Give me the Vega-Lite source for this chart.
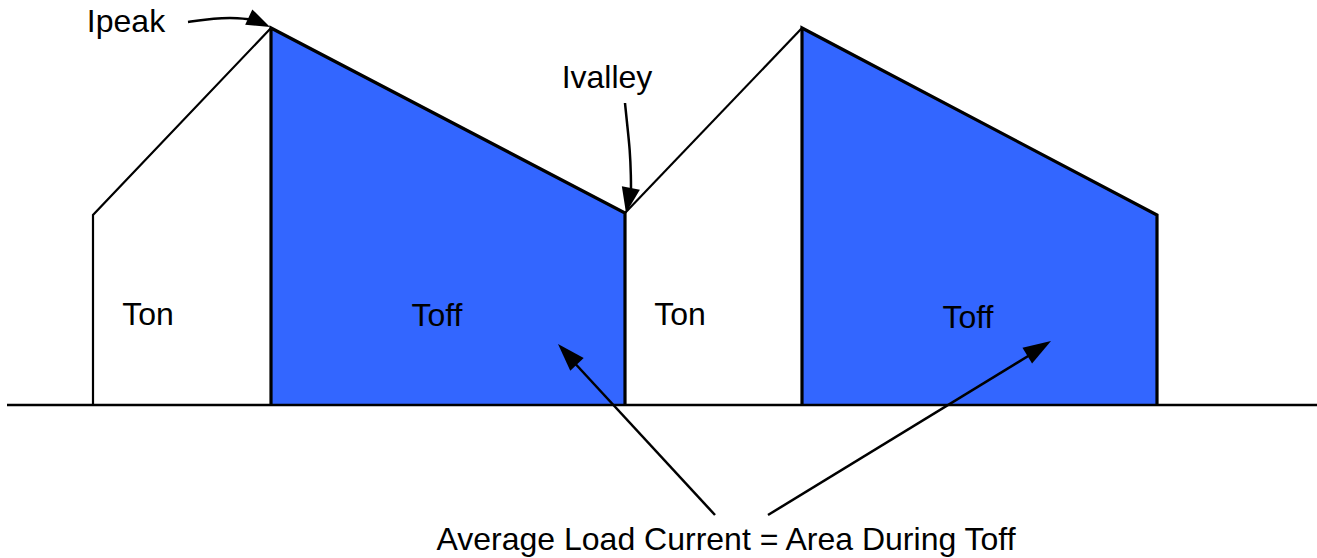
{
  "$schema": "https://vega.github.io/schema/vega-lite/v6.json",
  "width": 1317,
  "height": 558,
  "autosize": {"type": "none"},
  "padding": 0,
  "background": "white",
  "config": {"view": {"stroke": null}},
  "datasets": {
    "areas": [
      {"seg": "toff1", "x": 271, "y": 28},
      {"seg": "toff1", "x": 625, "y": 213},
      {"seg": "toff2", "x": 802, "y": 28},
      {"seg": "toff2", "x": 1157, "y": 215}
    ],
    "outline": [
      {"seg": "base", "kind": "base", "i": 0, "x": 7, "y": 405},
      {"seg": "base", "kind": "base", "i": 1, "x": 1317, "y": 405},
      {"seg": "ton1", "kind": "thin", "i": 0, "x": 93, "y": 405},
      {"seg": "ton1", "kind": "thin", "i": 1, "x": 93, "y": 215},
      {"seg": "ton1", "kind": "thin", "i": 2, "x": 271, "y": 28},
      {"seg": "ton2", "kind": "thin", "i": 0, "x": 625, "y": 213},
      {"seg": "ton2", "kind": "thin", "i": 1, "x": 802, "y": 28},
      {"seg": "toff1", "kind": "thick", "i": 0, "x": 271, "y": 405},
      {"seg": "toff1", "kind": "thick", "i": 1, "x": 271, "y": 28},
      {"seg": "toff1", "kind": "thick", "i": 2, "x": 625, "y": 213},
      {"seg": "toff1", "kind": "thick", "i": 3, "x": 625, "y": 405},
      {"seg": "toff2", "kind": "thick", "i": 0, "x": 802, "y": 405},
      {"seg": "toff2", "kind": "thick", "i": 1, "x": 802, "y": 28},
      {"seg": "toff2", "kind": "thick", "i": 2, "x": 1157, "y": 215},
      {"seg": "toff2", "kind": "thick", "i": 3, "x": 1157, "y": 405}
    ],
    "shafts": [
      {"arrow": "ipeak", "i": 0, "x": 188, "y": 22},
      {"arrow": "ipeak", "i": 1, "x": 205, "y": 19.5},
      {"arrow": "ipeak", "i": 2, "x": 222, "y": 18},
      {"arrow": "ipeak", "i": 3, "x": 238, "y": 18},
      {"arrow": "ipeak", "i": 4, "x": 251, "y": 19.5},
      {"arrow": "ivalley", "i": 0, "x": 625, "y": 103},
      {"arrow": "ivalley", "i": 1, "x": 627, "y": 123},
      {"arrow": "ivalley", "i": 2, "x": 630, "y": 150},
      {"arrow": "ivalley", "i": 3, "x": 631, "y": 177},
      {"arrow": "ivalley", "i": 4, "x": 631, "y": 192},
      {"arrow": "left", "i": 0, "x": 715, "y": 515},
      {"arrow": "left", "i": 1, "x": 570, "y": 358},
      {"arrow": "right", "i": 0, "x": 768, "y": 515},
      {"arrow": "right", "i": 1, "x": 1038, "y": 350}
    ],
    "heads": [
      {"arrow": "ipeak", "x": 270, "y": 27},
      {"arrow": "ivalley", "x": 626, "y": 213},
      {"arrow": "left", "x": 558, "y": 344},
      {"arrow": "right", "x": 1051, "y": 341}
    ],
    "labels": [
      {"label": "Ton", "x": 148, "y": 325},
      {"label": "Toff", "x": 437, "y": 326},
      {"label": "Ton", "x": 680, "y": 325},
      {"label": "Toff", "x": 968, "y": 328},
      {"label": "Ipeak", "x": 126, "y": 32},
      {"label": "Ivalley", "x": 607, "y": 88},
      {"label": "Average Load Current = Area During Toff", "x": 726, "y": 550}
    ]
  },
  "layer": [
    {
      "data": {"name": "areas"},
      "mark": {"type": "area", "color": "#3366FF", "opacity": 1, "interpolate": "linear"},
      "encoding": {
        "x": {"field": "x", "type": "quantitative", "scale": {"domain": [0, 1317], "nice": false, "zero": false}, "axis": null},
        "y": {"field": "y", "type": "quantitative", "scale": {"domain": [0, 558], "nice": false, "zero": false, "reverse": true}, "axis": null},
        "y2": {"datum": 405},
        "detail": {"field": "seg"}
      }
    },
    {
      "data": {"name": "outline"},
      "transform": [{"filter": "datum.kind === 'base'"}],
      "mark": {"type": "line", "color": "black", "strokeWidth": 2.5},
      "encoding": {
        "x": {"field": "x", "type": "quantitative", "axis": null},
        "y": {"field": "y", "type": "quantitative", "axis": null},
        "detail": {"field": "seg"},
        "order": {"field": "i"}
      }
    },
    {
      "data": {"name": "outline"},
      "transform": [{"filter": "datum.kind === 'thin'"}],
      "mark": {"type": "line", "color": "black", "strokeWidth": 2.2},
      "encoding": {
        "x": {"field": "x", "type": "quantitative", "axis": null},
        "y": {"field": "y", "type": "quantitative", "axis": null},
        "detail": {"field": "seg"},
        "order": {"field": "i"}
      }
    },
    {
      "data": {"name": "outline"},
      "transform": [{"filter": "datum.kind === 'thick'"}],
      "mark": {"type": "line", "color": "black", "strokeWidth": 3.2, "strokeJoin": "miter"},
      "encoding": {
        "x": {"field": "x", "type": "quantitative", "axis": null},
        "y": {"field": "y", "type": "quantitative", "axis": null},
        "detail": {"field": "seg"},
        "order": {"field": "i"}
      }
    },
    {
      "data": {"name": "shafts"},
      "mark": {"type": "line", "color": "black", "strokeWidth": 2.5, "interpolate": "basis"},
      "encoding": {
        "x": {"field": "x", "type": "quantitative", "axis": null},
        "y": {"field": "y", "type": "quantitative", "axis": null},
        "detail": {"field": "arrow"},
        "order": {"field": "i"}
      }
    },
    {
      "data": {"name": "heads"},
      "transform": [{"filter": "datum.arrow === 'ipeak'"}],
      "mark": {"type": "point", "shape": "M0,0L0.36,1L-0.36,1Z", "filled": true, "color": "black", "opacity": 1, "size": 2200, "angle": 115},
      "encoding": {
        "x": {"field": "x", "type": "quantitative", "axis": null},
        "y": {"field": "y", "type": "quantitative", "axis": null}
      }
    },
    {
      "data": {"name": "heads"},
      "transform": [{"filter": "datum.arrow === 'ivalley'"}],
      "mark": {"type": "point", "shape": "M0,0L0.36,1L-0.36,1Z", "filled": true, "color": "black", "opacity": 1, "size": 2600, "angle": 191},
      "encoding": {
        "x": {"field": "x", "type": "quantitative", "axis": null},
        "y": {"field": "y", "type": "quantitative", "axis": null}
      }
    },
    {
      "data": {"name": "heads"},
      "transform": [{"filter": "datum.arrow === 'left'"}],
      "mark": {"type": "point", "shape": "M0,0L0.33,1L-0.33,1Z", "filled": true, "color": "black", "opacity": 1, "size": 3100, "angle": 317},
      "encoding": {
        "x": {"field": "x", "type": "quantitative", "axis": null},
        "y": {"field": "y", "type": "quantitative", "axis": null}
      }
    },
    {
      "data": {"name": "heads"},
      "transform": [{"filter": "datum.arrow === 'right'"}],
      "mark": {"type": "point", "shape": "M0,0L0.33,1L-0.33,1Z", "filled": true, "color": "black", "opacity": 1, "size": 3100, "angle": 58.5},
      "encoding": {
        "x": {"field": "x", "type": "quantitative", "axis": null},
        "y": {"field": "y", "type": "quantitative", "axis": null}
      }
    },
    {
      "data": {"name": "labels"},
      "mark": {"type": "text", "font": "Liberation Sans", "fontSize": 32, "color": "black", "align": "center", "baseline": "alphabetic"},
      "encoding": {
        "x": {"field": "x", "type": "quantitative", "axis": null},
        "y": {"field": "y", "type": "quantitative", "axis": null},
        "text": {"field": "label"}
      }
    }
  ]
}
